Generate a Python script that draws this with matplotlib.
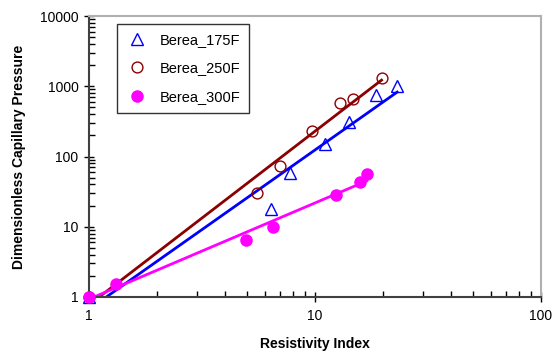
import numpy as np
import matplotlib
matplotlib.use("Agg")
import matplotlib.pyplot as plt

plt.rcParams['font.family'] = ['Liberation Sans', 'DejaVu Sans']

# Data
x175 = [1.0, 6.39, 7.75, 11.1, 14.2, 18.6, 23.1]
y175 = [1.0, 17.9, 58.4, 151, 308, 754, 1024]
x250 = [1.0, 5.52, 7.0, 9.67, 12.9, 14.8, 19.7]
y250 = [1.0, 30.0, 73.5, 232, 574, 661, 1331]
x300 = [1.0, 1.32, 4.95, 6.5, 12.4, 15.8, 16.9]
y300 = [1.0, 1.53, 6.49, 10.0, 28.4, 43, 56.5]

labels = ['Berea_175F', 'Berea_250F', 'Berea_300F']
colors = ['#0000ff', '#8b0000', '#ff00ff']

fig = plt.figure(figsize=(5.55, 3.54), dpi=100)
ax = fig.add_axes([89/555, 1-297/354, (541-89)/555, (297-16)/354])
ax.set_xscale('log')
ax.set_yscale('log')
ax.set_xlim(1, 100)
ax.set_ylim(1, 10000)


def power_fit(x, y):
    b, a = np.polyfit(np.log10(x), np.log10(y), 1)
    xs = np.logspace(np.log10(min(x)), np.log10(max(x)), 100)
    return xs, 10 ** (a + b * np.log10(xs))

for x, y, c in [(x175, y175, colors[0]), (x250, y250, colors[1]), (x300, y300, colors[2])]:
    xs, ys = power_fit(x, y)
    ax.plot(xs, ys, color=c, lw=2, zorder=2, clip_on=True)

ax.plot(x175, y175, linestyle='none', marker='^', ms=8.5, mfc='none', mec=colors[0], mew=1.0,
        label=labels[0], zorder=3, clip_on=False)
ax.plot(x250, y250, linestyle='none', marker='o', ms=7.8, mfc='none', mec=colors[1], mew=1.0,
        label=labels[1], zorder=3, clip_on=False)
ax.plot(x300, y300, linestyle='none', marker='o', ms=8, mfc=colors[2], mec=colors[2], mew=1.0,
        label=labels[2], zorder=4, clip_on=False)

ax.set_xticks([1, 10, 100])
ax.set_xticklabels(['1', '10', '100'])
ax.set_yticks([1, 10, 100, 1000, 10000])
ax.set_yticklabels(['1', '10', '100', '1000', '10000'])
ax.tick_params(axis='both', which='major', direction='inout', length=7, width=1, colors='#000000',
               labelsize=10, pad=4)
ax.tick_params(axis='x', which='major', pad=5)
ax.tick_params(axis='both', which='minor', direction='in', length=4, width=1, colors='#000000')
ax.tick_params(axis='y', which='minor', labelleft=False)
ax.tick_params(axis='x', which='minor', labelbottom=False)

for s in ['top', 'right']:
    ax.spines[s].set_color('#b0b0b0')
    ax.spines[s].set_linewidth(1.5)
for s in ['left', 'bottom']:
    ax.spines[s].set_color('#404040')
    ax.spines[s].set_linewidth(1.5)

ax.set_xlabel('Resistivity Index', fontsize=10, fontweight='bold', labelpad=10)
ax.set_ylabel('Dimensionless Capillary Pressure', fontsize=10, fontweight='bold', labelpad=10)

leg = ax.legend(loc='upper left', bbox_to_anchor=(0.063, 0.9715), borderaxespad=0,
                fontsize=10.5, frameon=True, fancybox=False, edgecolor='black',
                labelspacing=1.0, handletextpad=0.8, borderpad=0.6, handlelength=1.5)
leg.get_frame().set_linewidth(1.0)

fig.savefig('out.png', dpi=100)
